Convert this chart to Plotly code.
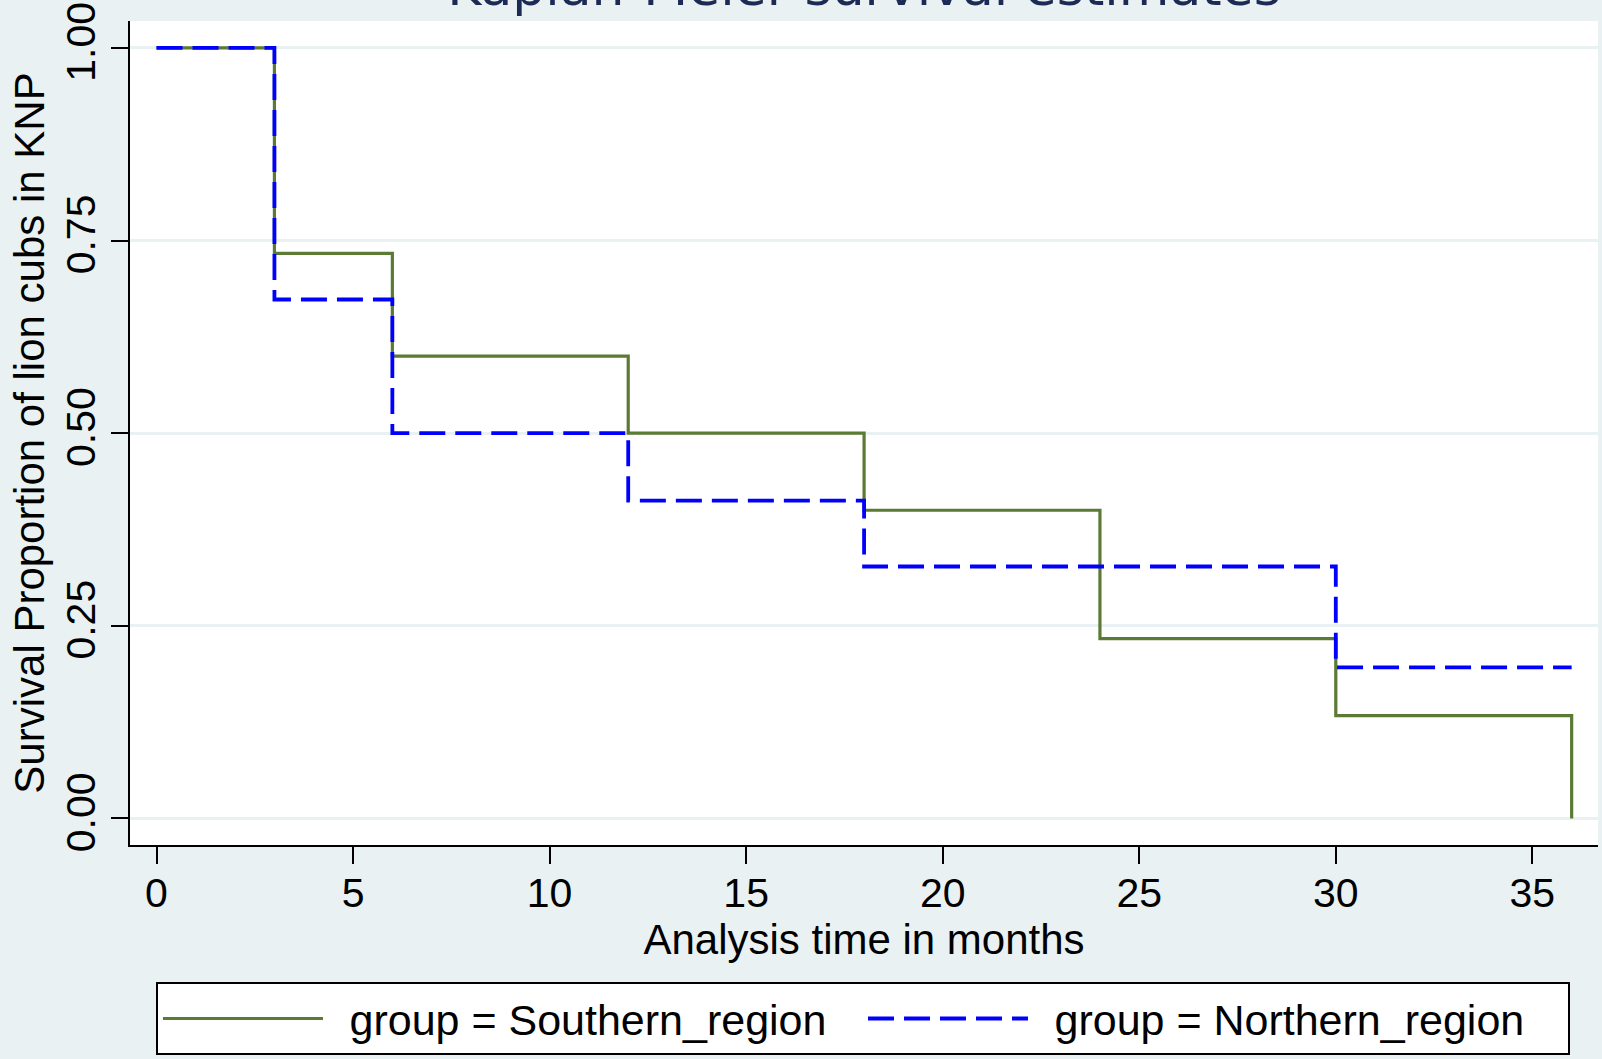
import plotly.graph_objects as go

# ---- data ----
south_time = [0, 3, 6, 12, 18, 24, 30, 36]
south_surv = [1.0, 0.7333, 0.6, 0.5, 0.4, 0.2333, 0.1333, 0.0]
north_time = [0, 3, 6, 12, 18, 30, 36]
north_surv = [1.0, 0.6735, 0.5, 0.4125, 0.327, 0.196, 0.196]
x_ticks = [0, 5, 10, 15, 20, 25, 30, 35]
y_ticks = [0.0, 0.25, 0.5, 0.75, 1.0]
y_ticklabels = ["0.00", "0.25", "0.50", "0.75", "1.00"]
series_names = ["group = Southern_region", "group = Northern_region"]

BG = "#E9F1F2"
FONT = "Liberation Sans, Arial, sans-serif"
PAD = "\u2002"  # small gap between legend key and its text

fig = go.Figure()
fig.add_trace(go.Scatter(
    x=south_time, y=south_surv, mode="lines", line_shape="hv",
    name=PAD + series_names[0],
    line=dict(color="#5B7A34", width=3.2),
))
fig.add_trace(go.Scatter(
    x=north_time, y=north_surv, mode="lines", line_shape="hv",
    name=PAD + series_names[1],
    line=dict(color="#0000FF", width=3.8, dash="26px,10px"),
))

fig.update_layout(
    width=1602, height=1059,
    paper_bgcolor=BG, plot_bgcolor="white",
    margin=dict(l=130, r=4, t=21, b=214, autoexpand=False),
    font=dict(family=FONT, size=42, color="black"),
    title=dict(
        text="Kaplan-Meier survival estimates",
        font=dict(family="DejaVu Sans, sans-serif", size=52, color="#1C2B55"),
        x=0.5, xanchor="center", xref="paper",
        y=1 - 5 / 1059, yanchor="bottom", yref="container",
    ),
    showlegend=True,
    legend=dict(
        orientation="h",
        x=0.0177, xanchor="left",
        y=-0.1663, yanchor="top",
        bgcolor="white", bordercolor="black", borderwidth=2,
        font=dict(family=FONT, size=43, color="black"),
        itemwidth=160, entrywidth=530,
        traceorder="normal",
    ),
    xaxis=dict(
        range=[-0.674, 36.67],
        tickmode="array", tickvals=x_ticks,
        ticks="outside", ticklen=17, tickwidth=2, tickcolor="black",
        showline=True, linecolor="black", linewidth=2,
        showgrid=False, zeroline=False,
        ticklabelstandoff=-6,
        tickfont=dict(family=FONT, size=41, color="black"),
        title=dict(text="Analysis time in months", standoff=0,
                   font=dict(family=FONT, size=42, color="black")),
    ),
    yaxis=dict(
        range=[-0.0345, 1.035],
        tickmode="array", tickvals=y_ticks, ticktext=y_ticklabels,
        tickangle=-90,
        ticks="outside", ticklen=17, tickwidth=2, tickcolor="black",
        showline=True, linecolor="black", linewidth=2,
        showgrid=True, gridcolor=BG, gridwidth=3,
        zeroline=False,
        tickfont=dict(family=FONT, size=41, color="black"),
        title=dict(text="Survival Proportion of lion cubs in KNP", standoff=0,
                   font=dict(family=FONT, size=42, color="black")),
    ),
)

fig.write_html("out.html", config={"displayModeBar": False})

# remove default page margin so the figure sits at the window origin
with open("out.html", "r", encoding="utf-8") as f:
    html = f.read()
html = html.replace("<head>", "<head><style>html,body{margin:0;padding:0;overflow:hidden;}</style>", 1)
with open("out.html", "w", encoding="utf-8") as f:
    f.write(html)
